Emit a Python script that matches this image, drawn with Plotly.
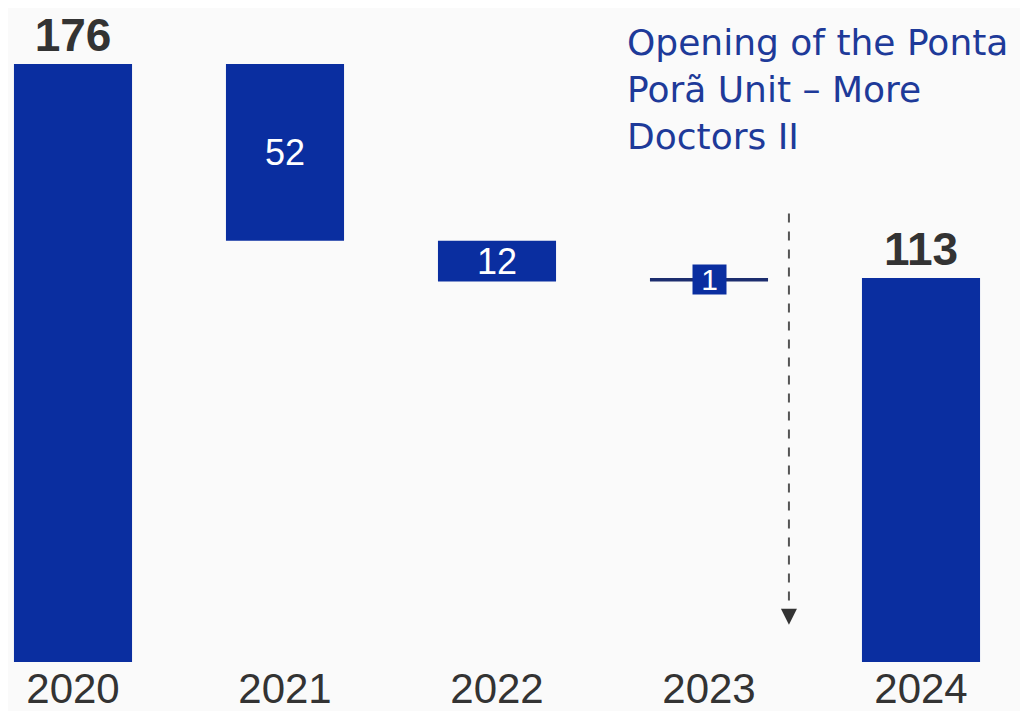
import plotly.graph_objects as go

years = ["2020", "2021", "2022", "2023", "2024"]
measures = ["absolute", "relative", "relative", "relative", "total"]
values = [176, -52, -12, 1, 113]
labels = ["176", "52", "12", "", "113"]
label_pos = ["outside", "inside", "inside", "none", "outside"]

note_text = "Opening of the Ponta<br>Porã Unit – More<br>Doctors II"
small_label = "1"

blue = "#0a2ea0"
bg = "#fafafa"

fig = go.Figure()

fig.add_trace(go.Waterfall(
    x=years,
    y=values,
    measure=measures,
    text=labels,
    textposition=label_pos,
    textangle=0,
    insidetextanchor="middle",
    constraintext="none",
    cliponaxis=False,
    insidetextfont=dict(family="Liberation Sans", size=36, color="white"),
    outsidetextfont=dict(family="Liberation Sans", size=46, color="#333333", weight="bold"),
    increasing=dict(marker=dict(color="#1c2d6e")),
    decreasing=dict(marker=dict(color=blue)),
    totals=dict(marker=dict(color=blue)),
    connector=dict(visible=False),
    hoverinfo="skip",
))

# label box of the small 2023 step (x given as category index)
fig.add_annotation(
    x=years.index("2023"), y=112.6, text=small_label, showarrow=False,
    bgcolor=blue, width=31, height=27,
    font=dict(family="Liberation Sans", size=30, color="white"),
)

# dashed arrow between 2023 and 2024
fig.add_shape(type="line", xref="x", yref="y", x0=3.377, x1=3.377, y0=132, y1=15,
              line=dict(color="#555555", width=2, dash="dash"))
fig.add_annotation(x=3.377, y=11, ax=3.377, ay=16, axref="x", ayref="y",
                   showarrow=True, arrowhead=2, arrowsize=1.6, arrowwidth=2,
                   arrowcolor="#333333", text="")

fig.add_annotation(
    xref="paper", yref="paper", x=0.605, y=0.982,
    xanchor="left", yanchor="top", align="left",
    text=note_text, showarrow=False,
    font=dict(family="DejaVu Sans", size=36, color="#1e3a99"),
)

fig.update_layout(
    width=1020, height=703,
    margin=dict(l=0, r=0, t=0, b=49),
    paper_bgcolor=bg, plot_bgcolor=bg,
    waterfallgap=0.443,
    showlegend=False,
    xaxis=dict(
        type="category", range=[-0.3066, 4.5047],
        showgrid=False, zeroline=False, showline=False, ticks="",
        automargin=False, ticklabelstandoff=-2,
        tickfont=dict(family="Liberation Sans", size=42, color="#333333"),
    ),
    yaxis=dict(range=[0, 192.5], visible=False, automargin=False),
)

fig.write_html("out.html")
